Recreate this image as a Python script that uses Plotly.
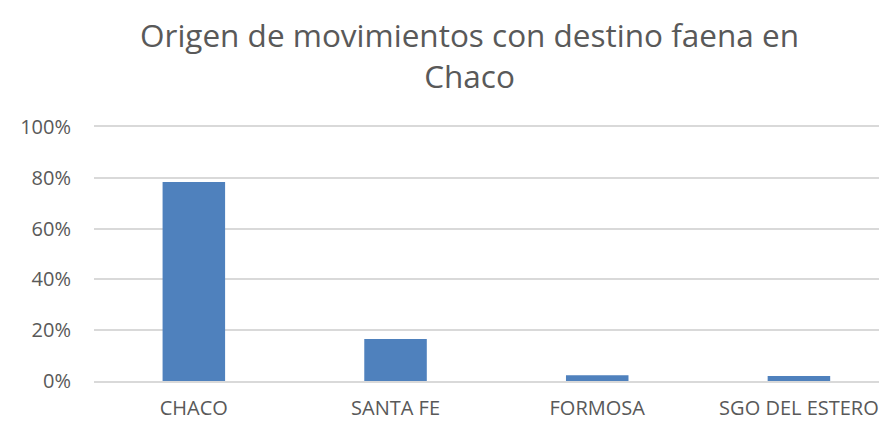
import plotly.graph_objects as go

categories = ["CHACO", "SANTA FE", "FORMOSA", "SGO DEL ESTERO"]
values = [0.783, 0.165, 0.023, 0.020]
y_ticks = [0, 0.2, 0.4, 0.6, 0.8, 1.0]
y_tick_labels = ["0%", "20%", "40%", "60%", "80%", "100%"]
title_text = "Origen de movimientos con destino faena en<br>Chaco"

font_family = "Open Sans, Liberation Sans, sans-serif"
text_color = "#595959"
grid_color = "#D9D9D9"

fig = go.Figure(
    go.Bar(
        x=categories,
        y=values,
        marker=dict(color="#4F81BD", line=dict(width=0)),
        width=0.31,
        hoverinfo="skip",
    )
)

fig.update_layout(
    width=879,
    height=421,
    margin=dict(l=94, r=0, t=127, b=40),
    paper_bgcolor="white",
    plot_bgcolor="white",
    showlegend=False,
    font=dict(family=font_family, color=text_color),
)

fig.add_annotation(
    text=title_text,
    xref="paper",
    yref="paper",
    x=0.478,
    y=1.285,
    xanchor="center",
    yanchor="middle",
    showarrow=False,
    font=dict(family=font_family, size=31.5, color=text_color),
)

fig.update_xaxes(
    type="category",
    range=[-0.495, 3.397],
    automargin=False,
    showgrid=False,
    showline=True,
    mirror=True,
    linecolor=grid_color,
    linewidth=1.5,
    zeroline=False,
    ticks="",
    ticklabelstandoff=8,
    tickfont=dict(size=20, color=text_color),
    fixedrange=True,
)

fig.update_yaxes(
    range=[0, 1],
    automargin=False,
    tickvals=y_ticks,
    ticktext=y_tick_labels,
    showgrid=True,
    gridcolor=grid_color,
    gridwidth=1.5,
    zeroline=False,
    showline=False,
    ticks="",
    ticklabelstandoff=22,
    tickfont=dict(size=20, color=text_color),
    fixedrange=True,
)

fig.write_html(
    "out.html",
    config={"displayModeBar": False},
    post_script="document.body.style.margin='0';document.body.style.overflow='hidden';",
)
